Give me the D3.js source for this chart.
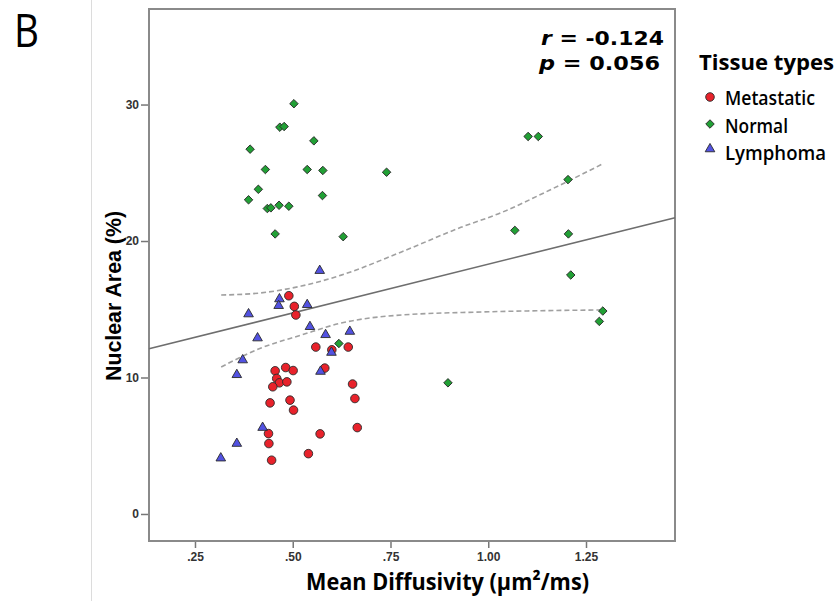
<!DOCTYPE html>
<html>
<head>
<meta charset="utf-8">
<script src="https://cdn.jsdelivr.net/npm/d3@7"></script>
<style>
  body { margin: 0; background: #fff; }
  svg { display: block; }
  .axis path { display: none; }
  .axis line { stroke: #777; stroke-width: 1.5; }
  .axis text { font-family: "Liberation Sans", Arial, sans-serif; font-size: 12px; font-weight: bold; fill: #333; }
</style>
</head>
<body>
<div id="chart"></div>
<script>
// values: [mean diffusivity, nuclear area]
var metastatic = [
  [0.490, 15.99], [0.504, 15.21], [0.508, 14.58], [0.559, 12.23], [0.642, 12.23],
  [0.600, 12.03], [0.582, 10.69], [0.455, 10.49], [0.482, 10.73], [0.501, 10.51],
  [0.459, 9.93], [0.466, 9.61], [0.485, 9.68], [0.449, 9.32], [0.493, 8.34],
  [0.442, 8.14], [0.502, 7.61], [0.438, 5.89], [0.439, 5.16], [0.570, 5.87],
  [0.540, 4.42], [0.446, 3.94], [0.653, 9.52], [0.659, 8.46], [0.665, 6.33]
];
var normal = [
  [0.503, 30.06], [0.467, 28.34], [0.478, 28.39], [0.554, 27.34], [0.391, 26.73],
  [0.430, 25.24], [0.537, 25.24], [0.577, 25.17], [0.412, 23.79], [0.387, 23.02],
  [0.435, 22.38], [0.444, 22.43], [0.465, 22.62], [0.490, 22.55], [0.576, 23.33],
  [0.455, 20.52], [0.629, 20.32], [0.740, 25.04], [1.102, 27.66], [1.128, 27.66],
  [1.204, 24.50], [1.068, 20.78], [1.205, 20.52], [1.211, 17.51], [1.293, 14.87],
  [1.284, 14.11], [0.618, 12.49], [0.897, 9.61]
];
var lymphoma = [
  [0.569, 17.83], [0.537, 15.33], [0.544, 13.72], [0.584, 13.13], [0.646, 13.37],
  [0.599, 11.83], [0.571, 10.44], [0.466, 15.75], [0.464, 15.26], [0.387, 14.65],
  [0.410, 12.89], [0.372, 11.28], [0.357, 10.20], [0.423, 6.33], [0.357, 5.16],
  [0.316, 4.09]
];

// fit line (intercept, slope) and the dashed confidence curves
var fit = [11.16, 7.14];
var upperCI = [[0.317, 16.04], [0.419, 16.2], [0.522, 16.7], [0.624, 17.5], [0.778, 19.2],
  [0.930, 21.0], [1.035, 22.1], [1.155, 23.7], [1.296, 25.7]];
var lowerCI = [[0.317, 10.77], [0.419, 12.16], [0.522, 13.11], [0.624, 13.99], [0.778, 14.58],
  [0.983, 14.80], [1.296, 14.95]];

var xTicks = [0.25, 0.5, 0.75, 1.0, 1.25];
var xTickLabels = [".25", ".50", ".75", "1.00", "1.25"];
var yTicks = [0, 10, 20, 30];

var groups = ["Metastatic", "Normal", "Lymphoma"];
var colors = ["#e8222b", "#21a035", "#5252e2"];

function drawChart() {
  var W = 835, H = 601;
  var pLeft = 149, pRight = 675, pTop = 9, pBottom = 541;

  var svg = d3.select("#chart").append("svg")
    .attr("width", W)
    .attr("height", H);

  // panel separator and letter
  svg.append("line")
    .attr("x1", 91.5).attr("x2", 91.5)
    .attr("y1", 0).attr("y2", H)
    .attr("stroke", "#dcdcdc").attr("stroke-width", 1);

  svg.append("text")
    .attr("x", 14).attr("y", 47)
    .attr("textLength", 25).attr("lengthAdjust", "spacingAndGlyphs")
    .style("font-family", "Open Sans, sans-serif")
    .style("font-size", "45px")
    .text("B");

  var x = d3.scaleLinear()
    .domain([0.1324, 1.4776])
    .range([pLeft, pRight]);

  var y = d3.scaleLinear()
    .domain([-1.98, 37.0])
    .range([pBottom, pTop]);

  var xAxis = d3.axisBottom(x)
    .tickValues(xTicks)
    .tickSize(7)
    .tickPadding(4)
    .tickFormat(function(d, i) { return xTickLabels[i]; });

  var yAxis = d3.axisLeft(y)
    .tickValues(yTicks)
    .tickSize(8)
    .tickPadding(2);

  svg.append("g")
    .attr("class", "axis")
    .attr("transform", "translate(0," + pBottom + ")")
    .call(xAxis);

  svg.append("g")
    .attr("class", "axis")
    .attr("transform", "translate(" + pLeft + ",0)")
    .call(yAxis);

  // frame
  svg.append("rect")
    .attr("x", pLeft).attr("y", pTop)
    .attr("width", pRight - pLeft).attr("height", pBottom - pTop)
    .attr("fill", "none")
    .attr("stroke", "#8a8a8a")
    .attr("stroke-width", 2);

  var plot = svg.append("g");

  // fit line across the frame
  var xd = x.domain();
  plot.append("line")
    .attr("x1", x(xd[0])).attr("y1", y(fit[0] + fit[1] * xd[0]))
    .attr("x2", x(xd[1])).attr("y2", y(fit[0] + fit[1] * xd[1]))
    .attr("stroke", "#6e6e6e")
    .attr("stroke-width", 1.6);

  var curve = d3.line()
    .curve(d3.curveMonotoneX)
    .x(function(d) { return x(d[0]); })
    .y(function(d) { return y(d[1]); });

  [upperCI, lowerCI].forEach(function(c) {
    plot.append("path")
      .attr("d", curve(c))
      .attr("fill", "none")
      .attr("stroke", "#a0a0a0")
      .attr("stroke-width", 1.6)
      .attr("stroke-dasharray", "5,3");
  });

  var symbols = [
    d3.symbol().type(d3.symbolCircle).size(58),
    d3.symbol().type(d3.symbolSquare).size(36),
    d3.symbol().type(d3.symbolTriangle).size(40)
  ];
  var rotate = [0, 45, 0];

  [metastatic, normal, lymphoma].forEach(function(data, g) {
    plot.selectAll(".pt" + g)
      .data(data)
      .enter()
      .append("path")
      .attr("class", "pt" + g)
      .attr("d", symbols[g])
      .attr("transform", function(d) {
        return "translate(" + x(d[0]) + "," + y(d[1]) + ") rotate(" + rotate[g] + ")";
      })
      .attr("fill", colors[g])
      .attr("stroke", "#2a2a2a")
      .attr("stroke-width", 0.9);
  });

  // axis titles
  svg.append("text")
    .attr("x", 306).attr("y", 590)
    .attr("textLength", 283).attr("lengthAdjust", "spacingAndGlyphs")
    .style("font-family", "Open Sans, sans-serif")
    .style("font-weight", "bold")
    .style("font-size", "24px")
    .text("Mean Diffusivity (\u00b5m\u00b2/ms)");

  svg.append("text")
    .attr("transform", "translate(121,381) rotate(-90)")
    .attr("textLength", 170).attr("lengthAdjust", "spacingAndGlyphs")
    .style("font-family", "Liberation Sans, Arial, sans-serif")
    .style("font-weight", "bold")
    .style("font-size", "22px")
    .text("Nuclear  Area (%)");

  // stats
  var stats = [["r", " = -0.124", 45, 541, 123], ["p", " = 0.056", 70, 539, 121]];
  stats.forEach(function(s) {
    var t = svg.append("text")
      .attr("x", s[3]).attr("y", s[2])
      .attr("textLength", s[4]).attr("lengthAdjust", "spacingAndGlyphs")
      .style("font-family", "DejaVu Sans, sans-serif")
      .style("font-weight", "bold")
      .style("font-size", "19px");
    t.append("tspan").style("font-style", "italic").text(s[0]);
    t.append("tspan").text(s[1]);
  });

  // legend
  svg.append("text")
    .attr("x", 699).attr("y", 70)
    .attr("textLength", 135).attr("lengthAdjust", "spacingAndGlyphs")
    .style("font-family", "Open Sans, sans-serif")
    .style("font-weight", "bold")
    .style("font-size", "22px")
    .text("Tissue types");

  var legY = [97, 124, 149];
  var legText = [105, 133, 160];
  var legLen = [90, 63, 101];
  groups.forEach(function(name, g) {
    svg.append("path")
      .attr("d", symbols[g])
      .attr("transform", "translate(710," + legY[g] + ") rotate(" + rotate[g] + ")")
      .attr("fill", colors[g])
      .attr("stroke", "#2a2a2a")
      .attr("stroke-width", 0.9);
    svg.append("text")
      .attr("x", 725).attr("y", legText[g])
      .attr("textLength", legLen[g]).attr("lengthAdjust", "spacingAndGlyphs")
      .style("font-family", "Open Sans, sans-serif")
      .style("font-weight", "600")
      .style("font-size", "19px")
      .text(name);
  });
}

drawChart();
</script>
</body>
</html>
